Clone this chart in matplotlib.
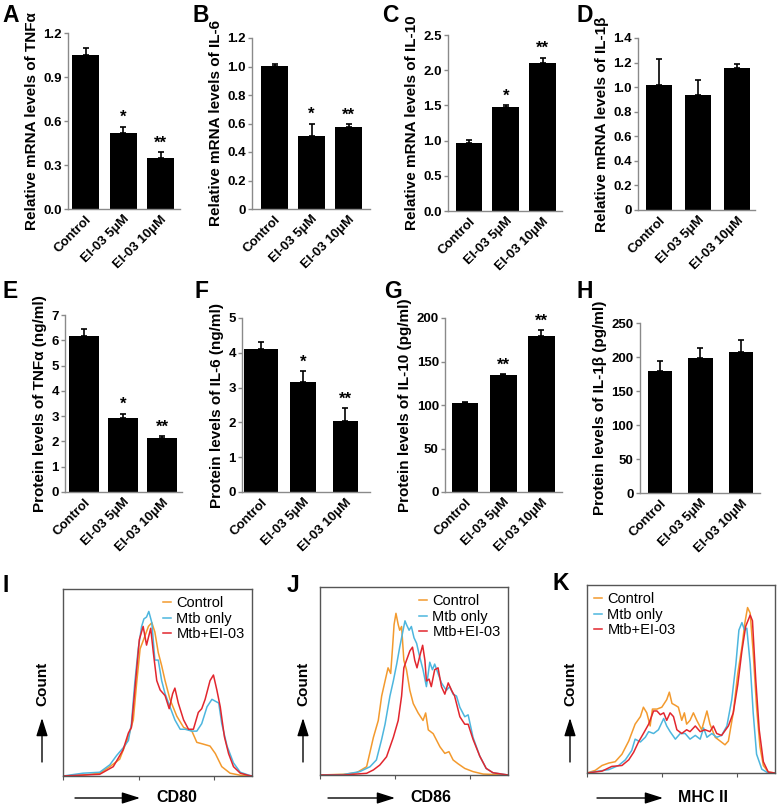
import numpy as np
import matplotlib
matplotlib.use('Agg')
import matplotlib.pyplot as plt
from matplotlib.patches import FancyArrowPatch

plt.rcParams['font.family'] = ['Liberation Sans', 'DejaVu Sans']

groups = ['Control', 'EI-03 5μM', 'EI-03 10μM']

# mRNA levels (A-D)
tnf_mrna = [1.05, 0.52, 0.348]
tnf_mrna_err = [0.046, 0.042, 0.038]
il6_mrna = [1.005, 0.515, 0.575]
il6_mrna_err = [0.015, 0.085, 0.02]
il10_mrna = [0.96, 1.48, 2.10]
il10_mrna_err = [0.045, 0.022, 0.08]
il1b_mrna = [1.016, 0.935, 1.157]
il1b_mrna_err = [0.217, 0.127, 0.03]

# protein levels (E-H)
tnf_prot = [6.16, 2.93, 2.14]
tnf_prot_err = [0.30, 0.17, 0.08]
il6_prot = [4.12, 3.17, 2.05]
il6_prot_err = [0.18, 0.30, 0.36]
il10_prot = [102.3, 134.0, 179.0]
il10_prot_err = [0.8, 2.0, 7.0]
il1b_prot = [180.0, 199.0, 208.0]
il1b_prot_err = [13.5, 14.5, 17.5]

stars_AC = ['', '*', '**']
stars_G = ['', '**', '**']

# flow cytometry histograms: x = log10 intensity, y = % of max count
cd80_ctrl_x = [0, 0.53, 0.97, 1.24, 1.50, 1.73, 1.86, 1.95, 2.04, 2.17, 2.26, 2.35, 2.43, 2.52, 2.61, 2.70,
               2.83, 3.01, 3.19, 3.41, 3.54, 3.72, 3.89, 4.03, 4.20, 4.42, 4.69, 5.0]
cd80_ctrl_y = [0, 0.5, 1.5, 5, 9, 21, 30, 50, 68, 75, 80, 82, 77, 66, 59, 51,
               41, 32, 26, 24, 18, 17, 16, 12, 5, 1.5, 0.4, 0]
cd80_mtb_x = [0, 0.53, 0.97, 1.24, 1.42, 1.59, 1.73, 1.81, 1.90, 1.99, 2.08, 2.14, 2.21, 2.27, 2.35, 2.43,
              2.52, 2.61, 2.70, 2.83, 2.96, 3.10, 3.23, 3.41, 3.54, 3.67, 3.81, 3.94, 4.03, 4.12, 4.20,
              4.34, 4.51, 4.69, 4.91, 5.0]
cd80_mtb_y = [0, 1.5, 2, 6, 11, 15, 19, 28, 50, 68, 80, 84, 85, 88, 82, 62,
              62, 51, 44, 37, 30, 25, 25, 24, 24, 28, 37, 41, 40, 39, 28,
              16, 7, 2, 0.5, 0]
cd80_ei_x = [0, 0.97, 1.33, 1.59, 1.73, 1.81, 1.90, 2.02, 2.12, 2.21, 2.32, 2.39, 2.48, 2.57, 2.70, 2.81,
             2.90, 2.96, 3.05, 3.19, 3.32, 3.45, 3.58, 3.67, 3.76, 3.89, 3.98, 4.07, 4.16, 4.27, 4.38,
             4.51, 4.69, 4.91, 5.0]
cd80_ei_y = [0, 0.9, 5, 14, 23, 26, 46, 73, 80, 70, 79, 66, 51, 46, 43, 36,
             44, 47, 39, 30, 25, 25, 34, 36, 41, 51, 54, 46, 37, 21, 12,
             5, 1.5, 0.3, 0]

cd86_ctrl_x = [0, 0.62, 0.97, 1.24, 1.42, 1.55, 1.64, 1.73, 1.81, 1.88, 1.93, 1.97, 2.02, 2.08, 2.12, 2.17,
               2.23, 2.30, 2.39, 2.48, 2.61, 2.74, 2.81, 2.88, 3.01, 3.19, 3.32, 3.43, 3.54, 3.67, 3.85,
               4.07, 4.34, 5.0]
cd86_ctrl_y = [0, 0.4, 1.2, 4.4, 20, 29, 42, 50, 57, 54, 68, 80, 86, 80, 77, 79,
               61, 56, 45, 38, 33, 29, 33, 24, 22, 15, 11.5, 12.4, 8, 6, 3.5,
               1.8, 0.5, 0]
cd86_mtb_x = [0, 0.62, 1.06, 1.33, 1.50, 1.64, 1.73, 1.86, 1.95, 2.04, 2.12, 2.19, 2.26, 2.30, 2.37, 2.43,
              2.50, 2.57, 2.65, 2.74, 2.83, 2.92, 2.99, 3.05, 3.14, 3.23, 3.36, 3.45, 3.54, 3.63, 3.72,
              3.85, 3.94, 4.07, 4.25, 4.42, 4.60, 5.0]
cd86_mtb_y = [0, 0.2, 1.8, 4.4, 8, 19, 27, 42, 50, 59, 68, 75, 82, 80, 77, 79,
              73, 70, 63, 56, 47, 60, 56, 59, 54, 49, 45, 47, 43, 42, 36,
              31, 32, 20, 10, 3.5, 1.2, 0]
cd86_ei_x = [0, 0.62, 1.24, 1.42, 1.59, 1.77, 1.95, 2.08, 2.17, 2.23, 2.30, 2.39, 2.46, 2.52, 2.58, 2.65,
             2.73, 2.79, 2.83, 2.90, 2.96, 3.05, 3.14, 3.23, 3.32, 3.41, 3.50, 3.58, 3.72, 3.85, 3.94,
             4.07, 4.25, 4.42, 4.60, 5.0]
cd86_ei_y = [0, 0, 0.9, 2.7, 5.3, 9.7, 20, 29, 42, 57, 61, 66, 68, 61, 57, 63,
             69, 61, 50, 51, 47, 56, 57, 47, 43, 49, 45, 42, 31, 27, 27,
             19, 10, 3.5, 1.2, 0]

mhc_ctrl_x = [0, 0.22, 0.40, 0.58, 0.75, 0.93, 1.11, 1.28, 1.42, 1.50, 1.59, 1.68, 1.74, 1.86, 1.99, 2.12,
              2.19, 2.26, 2.35, 2.43, 2.52, 2.59, 2.65, 2.74, 2.83, 2.92, 3.05, 3.19, 3.27, 3.41, 3.54,
              3.67, 3.76, 3.89, 4.01, 4.12, 4.20, 4.27, 4.34, 4.42, 4.51, 4.60, 4.69, 4.82, 5.0]
mhc_ctrl_y = [0, 1.4, 4, 5.3, 6, 10, 17, 26, 30, 35, 32, 25, 34, 34, 35, 39,
              43, 37, 36, 35, 28, 32, 26, 28, 32, 28, 23, 33, 26, 19, 17,
              15, 17, 32, 53, 67, 80, 88, 85, 64, 35, 14, 4, 0.5, 0]
mhc_mtb_x = [0, 0.31, 0.58, 0.84, 1.02, 1.19, 1.28, 1.42, 1.55, 1.64, 1.77, 1.90, 2.04, 2.12, 2.21, 2.35,
             2.48, 2.61, 2.74, 2.88, 3.01, 3.10, 3.19, 3.32, 3.45, 3.58, 3.72, 3.85, 3.96, 4.04, 4.12,
             4.19, 4.25, 4.34, 4.42, 4.51, 4.65, 4.82, 5.0]
mhc_mtb_y = [0, 1, 1.8, 4, 7, 12, 18, 16.5, 19, 22, 21, 23, 29, 25, 22, 18,
             21, 21, 18, 20, 18, 24, 19, 21, 19, 20, 25, 39, 58, 76, 80,
             76, 77, 58, 32, 10, 2, 0, 0]
mhc_ei_x = [0, 0.40, 0.66, 0.93, 1.11, 1.24, 1.37, 1.50, 1.64, 1.77, 1.86, 1.95, 2.04, 2.12, 2.21, 2.30,
            2.39, 2.52, 2.65, 2.74, 2.88, 3.01, 3.14, 3.27, 3.36, 3.45, 3.58, 3.76, 3.89, 4.01, 4.12,
            4.22, 4.34, 4.40, 4.49, 4.58, 4.69, 4.82, 5.0]
mhc_ei_y = [0, 1, 3.5, 4, 7, 11, 16.5, 21, 26, 33, 33, 31, 32, 28, 32, 30,
            23, 21, 23, 22, 25, 22, 23, 22, 25, 21, 20, 25, 32, 47, 65,
            78, 84, 81, 49, 23, 6, 0.5, 0]

legend_labels = ['Control', 'Mtb only', 'Mtb+EI-03']
flow_colors = ['#F39A2E', '#4DB6DE', '#E2262E']

W, H = 778, 808
fig = plt.figure(figsize=(W / 100, H / 100), dpi=100)


def rect(x0, x1, ytop, ybot):
    return [x0 / W, 1 - ybot / H, (x1 - x0) / W, (ybot - ytop) / H]


def bar_panel(r, vals, errs, stars, yticks, ylabs, ylabel, xlim, width):
    ax = fig.add_axes(r)
    x = np.arange(len(vals))
    ax.bar(x, vals, width=width, color='black', zorder=2)
    ax.errorbar(x, vals, yerr=[[0] * len(errs), errs], fmt='none', ecolor='black',
                elinewidth=1.2, capsize=2.5, capthick=1.2, zorder=1)
    for i, s in enumerate(stars):
        if s:
            ax.annotate(s, (x[i], vals[i] + errs[i]), xytext=(0, 1), textcoords='offset points',
                        ha='center', va='bottom', fontsize=12, fontweight='bold')
    ax.set_xlim(*xlim)
    ax.set_ylim(yticks[0], yticks[-1])
    ax.set_yticks(yticks)
    ax.set_yticklabels(ylabs)
    ax.set_xticks(x)
    ax.set_xticklabels(groups, rotation=45, ha='right', rotation_mode='anchor')
    for lab in ax.get_xticklabels() + ax.get_yticklabels():
        lab.set_fontweight('bold')
        lab.set_fontsize(9.5)
    ax.spines['top'].set_visible(False)
    ax.spines['right'].set_visible(False)
    for sp in ('left', 'bottom'):
        ax.spines[sp].set_color('#8a8a8a')
        ax.spines[sp].set_linewidth(1.0)
    ax.tick_params(axis='y', length=3, width=1, color='#8a8a8a', pad=1.5)
    ax.tick_params(axis='x', length=0, pad=3)
    ax.set_ylabel(ylabel, fontsize=11, fontweight='bold', labelpad=3)
    ax.set_facecolor('none')
    return ax


bar_panel(rect(68, 180, 33, 209), tnf_mrna, tnf_mrna_err, stars_AC,
          [0, 0.3, 0.6, 0.9, 1.2], ['0.0', '0.3', '0.6', '0.9', '1.2'],
          'Relative mRNA levels of TNFα', (-0.47, 2.52), 0.72)
bar_panel(rect(252, 370, 38, 209), il6_mrna, il6_mrna_err, stars_AC,
          [0, 0.2, 0.4, 0.6, 0.8, 1.0, 1.2], ['0', '0.2', '0.4', '0.6', '0.8', '1.0', '1.2'],
          'Relative mRNA levels of IL-6', (-0.61, 2.58), 0.72)
bar_panel(rect(448, 562, 35, 211), il10_mrna, il10_mrna_err, stars_AC,
          [0, 0.5, 1.0, 1.5, 2.0, 2.5], ['0.0', '0.5', '1.0', '1.5', '2.0', '2.5'],
          'Relative mRNA levels of IL-10', (-0.57, 2.53), 0.72)
bar_panel(rect(638, 755, 38, 210), il1b_mrna, il1b_mrna_err, ['', '', ''],
          [0, 0.2, 0.4, 0.6, 0.8, 1.0, 1.2, 1.4], ['0', '0.2', '0.4', '0.6', '0.8', '1.0', '1.2', '1.4'],
          'Relative mRNA levels of IL-1β', (-0.535, 2.45), 0.66)
bar_panel(rect(65, 182, 315, 492), tnf_prot, tnf_prot_err, stars_AC,
          list(range(8)), [str(v) for v in range(8)],
          'Protein levels of TNFα (ng/ml)', (-0.49, 2.51), 0.77)
bar_panel(rect(242, 370, 318, 492), il6_prot, il6_prot_err, stars_AC,
          list(range(6)), [str(v) for v in range(6)],
          'Protein levels of IL-6 (ng/ml)', (-0.45, 2.58), [0.8, 0.62, 0.6])
bar_panel(rect(445, 562, 318, 492), il10_prot, il10_prot_err, stars_G,
          [0, 50, 100, 150, 200], ['0', '50', '100', '150', '200'],
          'Protein levels of IL-10 (pg/ml)', (-0.52, 2.54), 0.7)
bar_panel(rect(640, 760, 323, 493), il1b_prot, il1b_prot_err, ['', '', ''],
          [0, 50, 100, 150, 200, 250], ['0', '50', '100', '150', '200', '250'],
          'Protein levels of IL-1β (pg/ml)', (-0.49, 2.47), 0.6)


def flow_panel(r, xs, ys, loc):
    ax = fig.add_axes(r)
    for x, y, c, lab in zip(xs, ys, flow_colors, legend_labels):
        ax.plot(10 ** np.array(x), y, color=c, lw=1.1, label=lab)
    ax.set_xscale('log')
    ax.set_xlim(1, 1e5)
    ax.set_ylim(0, 100)
    ax.set_yticks([])
    ax.set_xticklabels([], minor=True)
    ax.set_xticklabels([])
    for sp in ax.spines.values():
        sp.set_color('#555555')
        sp.set_linewidth(1.0)
    ax.tick_params(axis='x', which='major', length=3, width=0.8, color='#555555')
    ax.tick_params(axis='x', which='minor', length=2, width=0.6, color='#555555')
    ax.legend(loc=loc, frameon=False, fontsize=10.5, handlelength=0.5, handletextpad=0.4,
              labelspacing=0.1, borderaxespad=0.2, borderpad=0.3)
    return ax


flow_panel(rect(63, 252, 589, 776), [cd80_ctrl_x, cd80_mtb_x, cd80_ei_x],
           [cd80_ctrl_y, cd80_mtb_y, cd80_ei_y], 'upper right')
flow_panel(rect(320, 508, 587, 775), [cd86_ctrl_x, cd86_mtb_x, cd86_ei_x],
           [cd86_ctrl_y, cd86_mtb_y, cd86_ei_y], 'upper right')
flow_panel(rect(587, 775, 585, 773), [mhc_ctrl_x, mhc_mtb_x, mhc_ei_x],
           [mhc_ctrl_y, mhc_mtb_y, mhc_ei_y], 'upper left')


def fx(px):
    return px / W


def fy(py):
    return 1 - py / H


arrow = dict(arrowstyle='-|>,head_length=1.1,head_width=0.35', color='black', lw=1.0,
             shrinkA=0, shrinkB=0, mutation_scale=10)
for cx, ax0, ax1, xlab, lx in [(42, 75, 140, 'CD80', 177), (303, 328, 395, 'CD86', 431),
                               (570, 597, 663, 'MHC II', 703)]:
    fig.text(fx(cx), fy(684), 'Count', rotation=90, ha='center', va='center',
             fontsize=11, fontweight='bold')
    fig.add_artist(FancyArrowPatch((fx(cx), fy(762)), (fx(cx), fy(718)),
                                   transform=fig.transFigure, **arrow))
    fig.add_artist(FancyArrowPatch((fx(ax0), fy(798)), (fx(ax1), fy(798)),
                                   transform=fig.transFigure, **arrow))
    fig.text(fx(lx), fy(798), xlab, ha='center', va='center', fontsize=11.5, fontweight='bold')

for letter, px, py in [('A', 2, 15), ('B', 192, 15), ('C', 382, 15), ('D', 577, 15),
                       ('E', 2, 292), ('F', 194, 292), ('G', 384, 292), ('H', 577, 292),
                       ('I', 2, 585), ('J', 287, 585), ('K', 552, 583)]:
    fig.text(fx(px), fy(py), letter, ha='left', va='center', fontsize=16.5, fontweight='bold')

fig.savefig('out.png', dpi=100)
